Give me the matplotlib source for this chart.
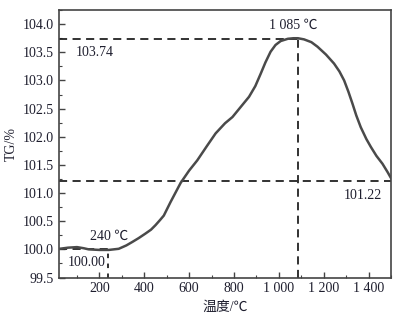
"""TG curve with marked peak (1 085 C) and reference levels."""
import matplotlib
matplotlib.use("Agg")
import matplotlib.pyplot as plt
from matplotlib.ticker import MultipleLocator, FuncFormatter

# values
temperature = [22, 60, 100, 130, 152, 200, 242, 286, 320, 346, 375, 405, 430,
               450, 470, 487, 517, 562, 600, 636, 680, 718, 760, 793, 830, 867,
               895, 919, 940, 963, 985, 1008, 1040, 1065, 1085, 1112, 1145,
               1172, 1210, 1246, 1270, 1291, 1310, 1328, 1345, 1365, 1390,
               1410, 1435, 1462, 1485, 1505]
tg = [100.01, 100.03, 100.04, 100.02, 100.00, 99.99, 99.99, 100.01, 100.07,
      100.13, 100.20, 100.28, 100.35, 100.43, 100.52, 100.60, 100.84, 101.18,
      101.40, 101.58, 101.84, 102.06, 102.24, 102.35, 102.53, 102.71, 102.90,
      103.12, 103.32, 103.51, 103.63, 103.70, 103.74, 103.75, 103.75, 103.73,
      103.68, 103.60, 103.46, 103.30, 103.16, 103.00, 102.80, 102.59, 102.38,
      102.17, 101.96, 101.82, 101.66, 101.52, 101.37, 101.23]

peak_t, peak_tg = 1085, 103.74
end_tg = 101.22
start_t, start_tg = 240, 100.00

x_ticks = [200, 400, 600, 800, 1000, 1200, 1400]

SERIF = ["Liberation Serif", "Noto Sans CJK SC", "DejaVu Sans"]
plt.rcParams["font.family"] = SERIF
plt.rcParams["font.size"] = 10

fig = plt.figure(figsize=(3.99, 3.15), dpi=100)
ax = fig.add_axes([0.148, 0.119, 0.832, 0.849])

ink = "#1e1e2e"
dash = dict(color="#222222", linewidth=1.3, dashes=(4.5, 3))

ax.plot(temperature, tg, color="#4a4a4a", linewidth=1.8, zorder=3)

# reference lines
ax.plot([20, peak_t], [peak_tg, peak_tg], **dash)
ax.plot([peak_t, peak_t], [99.5, peak_tg], **dash)
ax.plot([20, 1500], [end_tg, end_tg], **dash)
ax.plot([20, start_t], [start_tg, start_tg], **dash)
ax.plot([start_t, start_t], [99.5, start_tg], color="#222222",
        linewidth=1.3, dashes=(2.5, 3))

ax.text(96, 103.62, "103.74", ha="left", va="top", color=ink)
ax.text(peak_t - 20, 103.86, "1 085 \u2103", ha="center", va="bottom",
        color=ink, family=SERIF)
ax.text(1460, 101.08, "101.22", ha="right", va="top", color=ink)
ax.text(160, 100.12, "240 \u2103", ha="left", va="bottom", color=ink,
        family=SERIF)
ax.text(228, 99.76, "100.00", ha="right", va="center", color=ink)

ax.set_xlim(20, 1500)
ax.set_ylim(99.5, 104.25)
ax.set_xticks(x_ticks)
ax.xaxis.set_major_formatter(
    FuncFormatter(lambda v, p: f"{int(v):,}".replace(",", " ")))
ax.xaxis.set_minor_locator(MultipleLocator(100))
ax.yaxis.set_major_locator(MultipleLocator(0.5))
ax.yaxis.set_minor_locator(MultipleLocator(0.25))
ax.yaxis.set_major_formatter(FuncFormatter(lambda v, p: f"{v:.1f}"))

ax.tick_params(which="both", direction="in", top=False, right=False,
               colors="#444444", labelcolor=ink)
ax.tick_params(which="major", length=4, width=1)
ax.tick_params(which="minor", length=2.5, width=0.8)
for s in ax.spines.values():
    s.set_color("#444444")
    s.set_linewidth(1.2)

ax.set_xlabel("温度/\u2103", color=ink, labelpad=4)
ax.set_ylabel("TG/%", color=ink, labelpad=4)

fig.savefig("out.png", dpi=100)
